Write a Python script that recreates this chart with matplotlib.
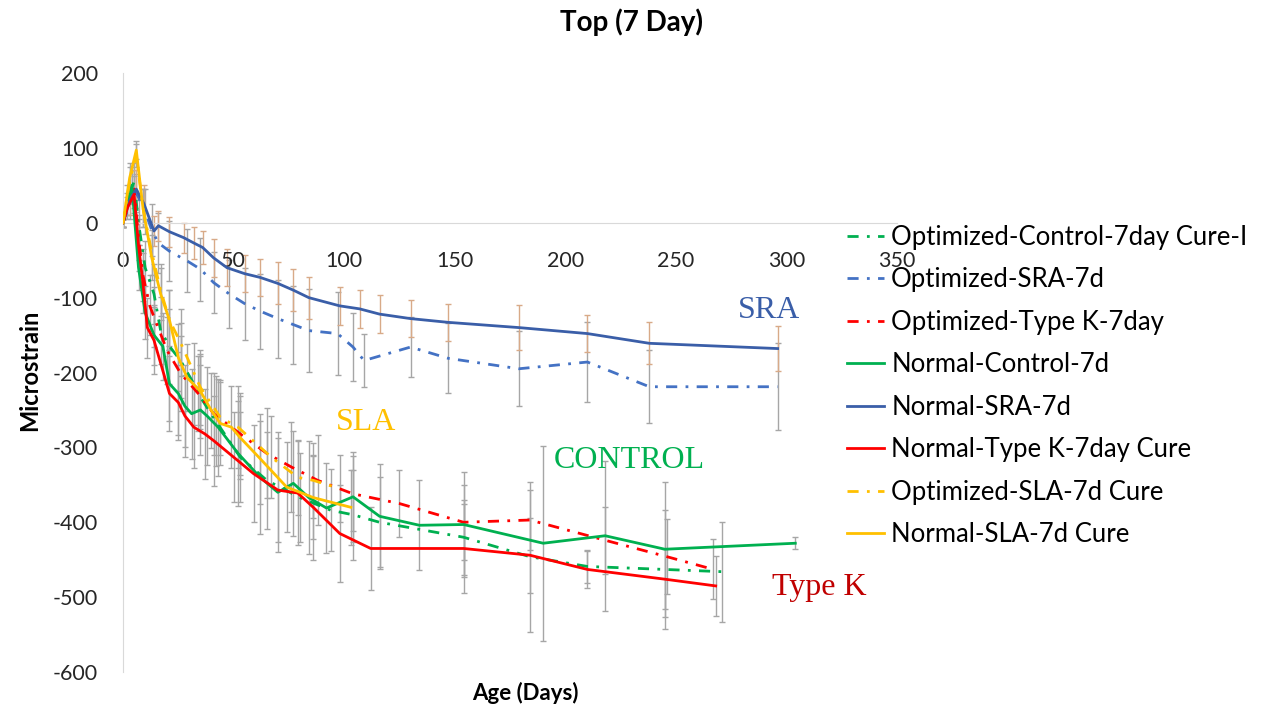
import matplotlib
matplotlib.use("Agg")
import matplotlib.pyplot as plt

plt.rcParams['font.family'] = ['Lato', 'DejaVu Sans']
plt.rcParams['axes.unicode_minus'] = False

# ---- data (days, microstrain, error) ----
opt_ctrl_days = [0, 2, 5, 7, 10, 14, 17, 21, 26, 32, 35, 42, 53, 65, 80, 94, 104, 116, 154, 184, 210, 245, 271]
opt_ctrl = [0, 30, 55, 0, -60, -95, -144, -165, -184, -215, -233, -265, -313, -344, -367, -384, -390, -400, -420, -446, -459, -463, -466]
opt_ctrl_err = [5, 20, 25, 30, 35, 40, 45, 50, 50, 55, 55, 60, 60, 65, 60, 55, 60, 60, 50, 100, 22, 80, 67]

opt_sra_days = [0, 3, 6, 10, 13, 16, 21, 29, 35, 41, 48, 55, 62, 70, 77, 84, 97, 104, 109, 130, 147, 179, 210, 238, 296]
opt_sra = [0, 25, 40, 15, -10, -27, -38, -51, -62, -80, -95, -108, -118, -128, -136, -144, -148, -166, -184, -166, -181, -195, -186, -219, -219]
opt_sra_err = [5, 20, 25, 30, 35, 40, 40, 42, 42, 41, 45, 48, 50, 52, 52, 55, 55, 45, 35, 40, 47, 50, 54, 49, 58]

opt_k_days = [0, 2, 5, 7, 9, 12, 14, 20, 26, 34, 41, 53, 65, 76, 88, 104, 125, 154, 184, 218, 246, 267]
opt_k = [0, 25, 45, -20, -70, -110, -126, -171, -201, -228, -255, -282, -308, -326, -344, -362, -375, -400, -397, -424, -446, -463]
opt_k_err = [5, 15, 25, 30, 35, 40, 40, 45, 50, 50, 55, 55, 60, 60, 60, 50, 45, 50, 40, 45, 50, 40]

nor_ctrl_days = [0, 4, 7, 10, 14, 18, 21, 25, 28, 31, 35, 38, 43, 52, 62, 70, 77, 84, 92, 104, 116, 134, 154, 190, 218, 245, 304]
nor_ctrl = [0, 50, -60, -120, -150, -165, -215, -228, -245, -255, -250, -258, -273, -308, -340, -360, -348, -367, -381, -366, -392, -404, -403, -428, -418, -436, -428]
nor_ctrl_err = [5, 25, 30, 35, 40, 45, 50, 55, 55, 60, 60, 65, 65, 70, 75, 80, 70, 75, 60, 60, 70, 60, 70, 130, 100, 90, 8]

nor_sra_days = [0, 3, 6, 9.5, 14, 16, 21, 27.5, 32, 36, 41, 47, 55, 62, 70, 77, 84, 98, 107, 116, 130, 147, 179, 210, 238, 296]
nor_sra = [0, 30, 45, 25, -11, -4, -12, -20, -27, -33, -47, -60, -68, -73, -81, -90, -100, -111, -115, -122, -128, -133, -140, -148, -161, -168]
nor_sra_err = [5, 20, 25, 25, 20, 20, 20, 20, 22, 22, 25, 25, 25, 25, 28, 28, 28, 25, 25, 25, 25, 25, 30, 25, 28, 30]

nor_k_days = [0, 2, 5, 7, 9, 11, 14, 21, 25, 28, 32, 37, 41, 50, 59, 70, 79, 86, 98, 112, 154, 184, 210, 245, 268]
nor_k = [0, 20, 38, -30, -80, -140, -157, -228, -240, -258, -273, -282, -291, -313, -335, -357, -361, -380, -415, -435, -435, -444, -463, -476, -485]
nor_k_err = [5, 15, 25, 35, 40, 40, 45, 50, 50, 55, 55, 60, 60, 60, 65, 70, 70, 70, 65, 55, 60, 50, 25, 40, 40]

opt_sla_days = [0, 3, 6, 9, 13, 17, 21, 26, 35, 44, 52, 67, 79, 86, 98]
opt_sla = [0, 55, 90, 20, -40, -90, -130, -160, -220, -260, -273, -313, -340, -344, -355]
opt_sla_err = [5, 20, 15, 25, 30, 35, 40, 45, 50, 50, 55, 55, 50, 50, 45]

nor_sla_days = [0, 3, 6, 9, 13, 17, 21, 25, 29, 35, 40, 44, 49, 53, 62, 74, 86, 103]
nor_sla = [0, 60, 97, 20, -47, -95, -130, -180, -207, -225, -251, -268, -273, -287, -315, -353, -367, -380]
nor_sla_err = [5, 20, 12, 25, 30, 35, 40, 45, 45, 50, 50, 55, 55, 55, 60, 60, 55, 50]

GREEN, BLUE, BLUE_D, RED, YELLOW = '#00b050', '#3a5ea8', '#4472c4', '#ff0000', '#ffc000'
GREY, TAN = '#a6a6a6', '#d8aa88'
dashdot = (0, (4, 3, 1, 3))

series = [
    ("Optimized-Control-7day Cure-I", opt_ctrl_days, opt_ctrl, opt_ctrl_err, GREEN, dashdot, GREY),
    ("Optimized-SRA-7d", opt_sra_days, opt_sra, opt_sra_err, BLUE_D, dashdot, GREY),
    ("Optimized-Type K-7day", opt_k_days, opt_k, opt_k_err, RED, dashdot, GREY),
    ("Normal-Control-7d", nor_ctrl_days, nor_ctrl, nor_ctrl_err, GREEN, '-', GREY),
    ("Normal-SRA-7d", nor_sra_days, nor_sra, nor_sra_err, BLUE, '-', TAN),
    ("Normal-Type K-7day Cure", nor_k_days, nor_k, nor_k_err, RED, '-', GREY),
    ("Optimized-SLA-7d Cure", opt_sla_days, opt_sla, opt_sla_err, YELLOW, dashdot, GREY),
    ("Normal-SLA-7d Cure", nor_sla_days, nor_sla, nor_sla_err, YELLOW, '-', GREY),
]

fig = plt.figure(figsize=(12.67, 7.15), dpi=100)
ax = fig.add_axes([0.0971, 0.0601, 0.6109, 0.8378])

handles = []
for label, d, v, e, col, ls, ecol in series:
    ax.errorbar(d, v, yerr=e, fmt='none', ecolor=ecol, elinewidth=1.0,
                capsize=2.5, capthick=1.0, zorder=1)
for label, d, v, e, col, ls, ecol in series:
    ln, = ax.plot(d, v, color=col, linestyle=ls, linewidth=2.0, label=label, zorder=3)
    handles.append(ln)

ax.set_xlim(0, 350)
ax.set_ylim(-600, 200)
ax.set_xticks(range(0, 351, 50))
ax.set_yticks(range(-600, 201, 100))
for s in ['top', 'right']:
    ax.spines[s].set_visible(False)
ax.spines['bottom'].set_position(('data', 0))
ax.spines['bottom'].set_color('#d9d9d9')
ax.spines['left'].set_color('#d9d9d9')
ax.tick_params(axis='both', length=0, labelsize=15.5, labelcolor='#262626')
ax.tick_params(axis='y', pad=18)
ax.tick_params(axis='x', pad=20)

# series labels
lab_font = dict(fontsize=23, family='Liberation Serif', ha='center', va='center')
ax.text(292, -117, "SRA", color='#3a5ea8', **lab_font)
ax.text(110, -267, "SLA", color=YELLOW, **lab_font)
ax.text(229, -317, "CONTROL", color=GREEN, **lab_font)
ax.text(315, -487, "Type K", color='#c00000', **lab_font)

fig.legend(handles=handles, loc='upper left', bbox_to_anchor=(847 / 1267, 1 - 225 / 715),
           frameon=False, fontsize=18.5, handlelength=1.45, handletextpad=0.27,
           labelspacing=0.68, borderaxespad=0, borderpad=0)

fig.text(632 / 1267, 1 - 22 / 715, "Top (7 Day)", ha='center', va='center', fontsize=20, fontweight='bold')
fig.text(525 / 1267, 1 - 693 / 715, "Age (Days)", ha='center', va='center', fontsize=16, fontweight='bold')
fig.text(30 / 1267, 1 - 370 / 715, "Microstrain", ha='center', va='center', rotation=90, fontsize=17, fontweight='bold')

fig.savefig("out.png", dpi=100)
